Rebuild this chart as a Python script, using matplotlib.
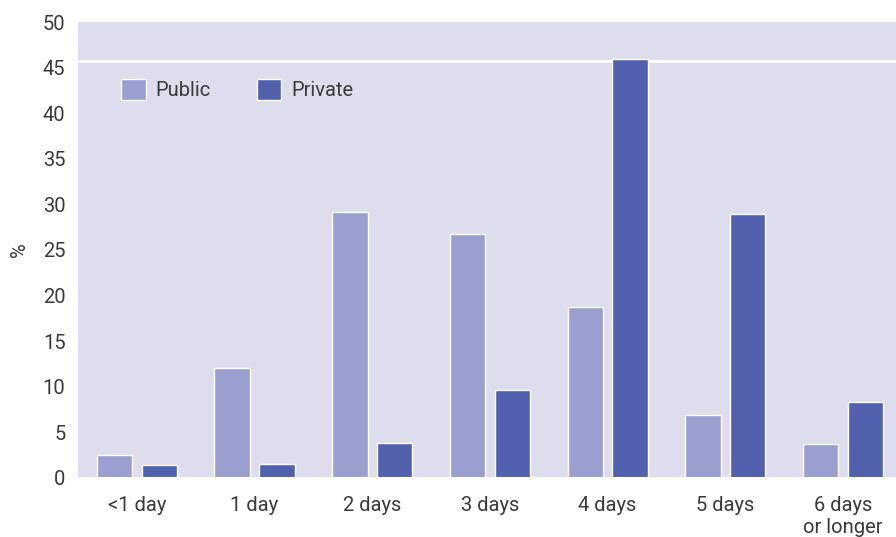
import matplotlib

matplotlib.use("Agg")

import matplotlib.pyplot as plt
import numpy as np

categories = ["<1 day", "1 day", "2 days", "3 days", "4 days", "5 days", "6 days\nor longer"]
public = [2.5, 12.1, 29.2, 26.8, 18.8, 6.9, 3.7]
private = [1.4, 1.5, 3.8, 9.6, 45.9, 29.0, 8.3]
ref_line = 45.7
y_ticks = [0, 5, 10, 15, 20, 25, 30, 35, 40, 45, 50]

BG = "#dedded"
PUBLIC_COLOR = "#9a9fcf"
PRIVATE_COLOR = "#5161ad"
TEXT_COLOR = "#3a3a3a"

plt.rcParams["font.family"] = ["Roboto", "DejaVu Sans"]

fig = plt.figure(figsize=(8.96, 5.37), dpi=100)
ax = fig.add_axes([0.087, 0.110, 0.913, 0.849])
ax.set_facecolor(BG)

x = np.arange(len(categories))
w = 0.30
off = 0.19
ax.bar(x - off, public, w, color=PUBLIC_COLOR, edgecolor="white", linewidth=1, label="Public", zorder=3)
ax.bar(x + off, private, w, color=PRIVATE_COLOR, edgecolor="white", linewidth=1, label="Private", zorder=3)

# white reference line across the plot
ax.axhline(ref_line, color="white", lw=2, zorder=2)

ax.set_xlim(-0.5, 6.45)
ax.set_ylim(0, 50)
ax.set_yticks(y_ticks)
ax.set_xticks(x, categories)
ax.tick_params(length=0, labelsize=14.5, colors=TEXT_COLOR)
ax.tick_params(axis="x", pad=13)
ax.tick_params(axis="y", pad=9)
for s in ax.spines.values():
    s.set_visible(False)
ax.axhline(0, color="white", lw=1.5, zorder=4)

ax.set_ylabel("%", fontsize=14.5, color=TEXT_COLOR, labelpad=10)

leg = ax.legend(
    loc="upper left",
    bbox_to_anchor=(0.031, 0.915),
    ncol=2,
    frameon=False,
    fontsize=14.5,
    handlelength=1.2,
    handleheight=1.2,
    handletextpad=0.5,
    columnspacing=2.3,
)
for t in leg.get_texts():
    t.set_color(TEXT_COLOR)

fig.savefig("out.png", dpi=100)
